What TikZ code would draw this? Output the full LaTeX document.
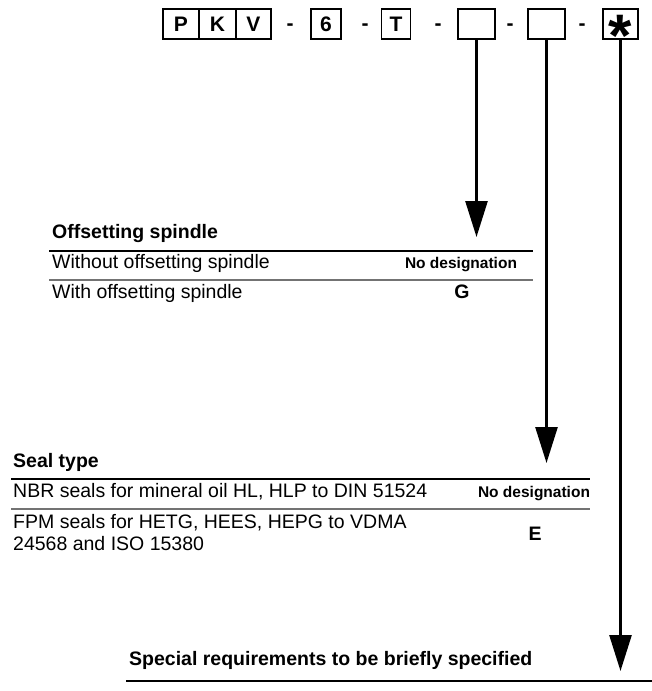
\documentclass[tikz,border=0pt]{standalone}
\usepackage{fontspec}
\setmainfont{Liberation Sans}
\usepackage{tikz}
\usetikzlibrary{arrows.meta,positioning}
\newcommand{\nodes}{No designation}
\newcommand{\bigstar}{\smash{\raisebox{-32pt}{\fontsize{60}{60}\selectfont *}}}

\tikzset{
  codebox/.style={draw,line width=1.8pt,minimum height=30pt,inner sep=0pt,
    font=\fontsize{21}{24}\selectfont\bfseries},
  codedash/.style={anchor=base,inner sep=0pt,font=\fontsize{21}{24}\selectfont\bfseries},
  codearrow/.style={line width=2.6pt,-{Triangle[width=22pt,length=36pt]}},
  tabhead/.style={anchor=base west,inner sep=0pt,font=\fontsize{19.5}{22}\selectfont\bfseries},
  tabrow/.style={anchor=base west,inner sep=0pt,font=\fontsize{19.5}{22}\selectfont},
  tabsign/.style={anchor=base,inner sep=0pt,font=\fontsize{15.5}{18}\selectfont\bfseries},
  tabkey/.style={anchor=base,inner sep=0pt,font=\fontsize{19.5}{22}\selectfont\bfseries},
  thickrule/.style={line width=2.6pt},
  thinrule/.style={line width=1.2pt,black!55}
}

\begin{document}
\begin{tikzpicture}[x=1pt,y=-1pt]
  \useasboundingbox (0,0) rectangle (652,691);

  \node[codebox,minimum width=36pt] (P) at (181,24) {P};
  \node[codebox,minimum width=37pt] (K) at (217.5,24) {K};
  \node[codebox,minimum width=35pt] (V) at (253.5,24) {V};
  \node[codedash] (d1) at (290,30) {-};
  \node[codebox,minimum width=30pt] (six) at (326,24) {6};
  \node[codedash] (d2) at (365,30) {-};
  \node[codebox,minimum width=29pt] (T) at (396,24) {T};
  \node[codedash] (d3) at (438,30) {-};
  \node[codebox,minimum width=37pt] (spdl) at (476.5,24) {};
  \node[codedash] (d4) at (510,30) {-};
  \node[codebox,minimum width=37pt] (seal) at (546.5,24) {};
  \node[codedash] (d5) at (582,30) {-};
  \node[codebox,minimum width=35pt] (spec) at (620.5,24) {\bigstar};

  % offsetting spindle
  \coordinate (spdltip) at (476.5,237);
  \node[tabhead] (spdlhead) at (52,238) {Offsetting spindle};
  \draw[thickrule] (49,251) -- (533,251);
  \node[tabrow] (spdlrow1) at (52,268) {Without offsetting spindle};
  \node[tabsign] (spdlkey1) at (461,268) {\nodes};
  \draw[thinrule] (49,280) -- (533,280);
  \node[tabrow] (spdlrow2) at (52,298) {With offsetting spindle};
  \node[tabkey] (spdlkey2) at (462,298) {G};

  % seal type
  \coordinate (sealtip) at (546.5,463);
  \node[tabhead] (sealhead) at (13,467) {Seal type};
  \draw[thickrule] (11,479) -- (590,479);
  \node[tabrow] (sealrow1) at (13,497) {NBR seals for mineral oil HL, HLP to DIN 51524};
  \node[tabsign] (sealkey1) at (534,497) {\nodes};
  \draw[thinrule] (11,509) -- (590,509);
  \node[tabrow,anchor=north west,align=left] (sealrow2) at (13,514)
    {FPM seals for HETG, HEES, HEPG to VDMA\\24568 and ISO 15380};
  \node[tabkey] (sealkey2) at (535,540) {E};

  % special requirements
  \coordinate (spectip) at (620.5,671);
  \node[tabhead] (spechead) at (129,665) {Special requirements to be briefly specified};
  \draw[thickrule] (126,681) -- (652,681);

  \draw[codearrow] (spdl.south) -- (spdltip);
  \draw[codearrow] (seal.south) -- (sealtip);
  \draw[codearrow] (spec.south) -- (spectip);
\end{tikzpicture}
\end{document}
